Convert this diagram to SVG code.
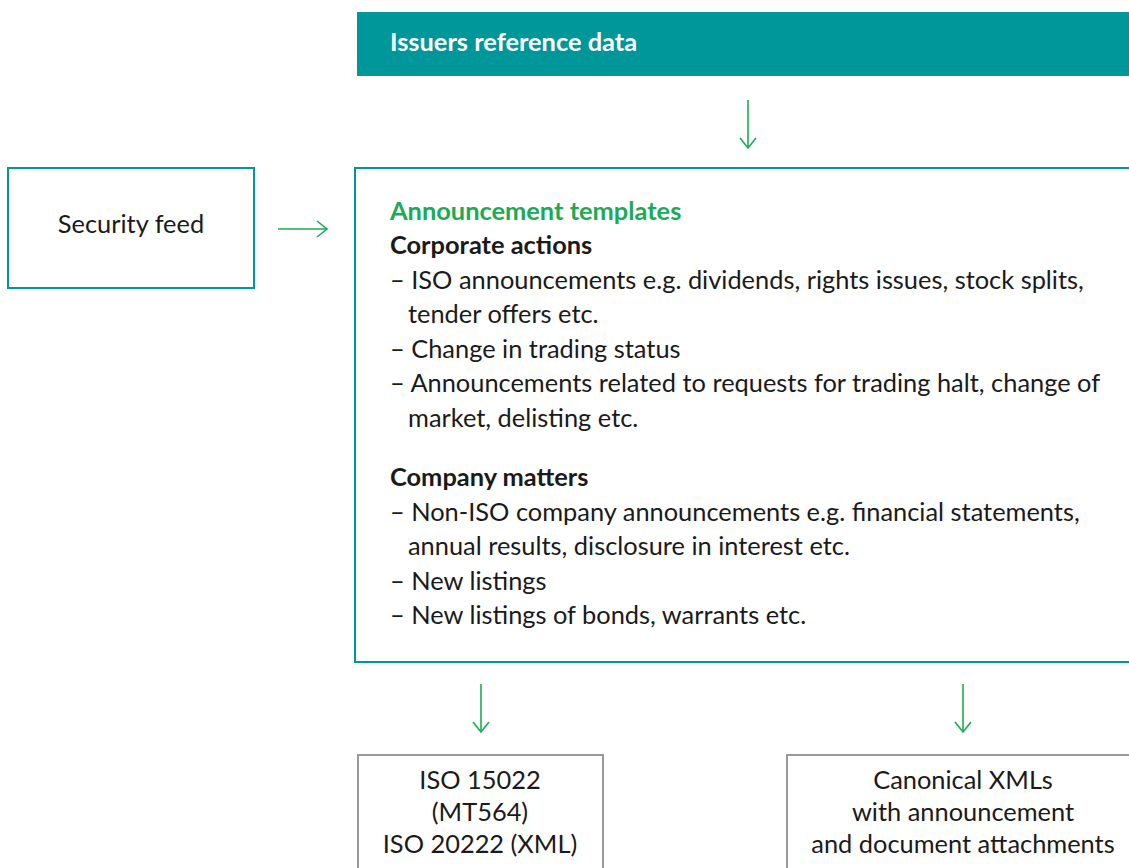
<svg xmlns="http://www.w3.org/2000/svg" width="1129" height="868" viewBox="0 0 1129 868">
<defs>
<marker id="arr" viewBox="0 0 16 18" refX="11" refY="9" markerWidth="16" markerHeight="18" markerUnits="userSpaceOnUse" orient="auto">
<path d="M1,1 L11,9 L1,17" fill="none" stroke="#1BAA55" stroke-width="1.6"/>
</marker>
<style>
text{font-family:Lato,"Liberation Sans",sans-serif;font-size:25.4px;fill:#1a1a1a}
.b{font-weight:bold}
.g{fill:#1BAA55;font-weight:bold}
.w{fill:#ffffff;font-weight:bold}
.c{text-anchor:middle}
.teal{fill:none;stroke:#00979A;stroke-width:2}
.grey{fill:none;stroke:#999999;stroke-width:2}
.con{stroke:#1BAA55;stroke-width:1.6;fill:none;marker-end:url(#arr)}
</style>
</defs>
<rect width="1129" height="868" fill="#ffffff"/>
<g id="issuers">
<rect x="357" y="12" width="772" height="64" fill="#00979A"/>
<text class="w" x="390" y="51">Issuers reference data</text>
</g>
<g id="security-feed">
<rect class="teal" x="8" y="168" width="246" height="120"/>
<text class="c" x="131" y="233">Security feed</text>
</g>
<g id="templates">
<rect class="teal" x="355" y="168" width="780" height="494"/>
<text class="g" x="390" y="220">Announcement templates</text>
<text class="b" x="390" y="254">Corporate actions</text>
<text x="390" y="289">– ISO announcements e.g. dividends, rights issues, stock splits,</text>
<text x="408" y="323">tender offers etc.</text>
<text x="390" y="358">– Change in trading status</text>
<text x="390" y="392">– Announcements related to requests for trading halt, change of</text>
<text x="408" y="427">market, delisting etc.</text>
<text class="b" x="390" y="486">Company matters</text>
<text x="390" y="521">– Non-ISO company announcements e.g. financial statements,</text>
<text x="408" y="555">annual results, disclosure in interest etc.</text>
<text x="390" y="590">– New listings</text>
<text x="390" y="624">– New listings of bonds, warrants etc.</text>
</g>
<g id="iso">
<rect class="grey" x="358" y="755" width="245" height="130"/>
<text class="c" x="480" y="789">ISO 15022</text>
<text class="c" x="480" y="821">(MT564)</text>
<text class="c" x="480" y="853">ISO 20222 (XML)</text>
</g>
<g id="canonical">
<rect class="grey" x="787" y="755" width="360" height="130"/>
<text class="c" x="963" y="789">Canonical XMLs</text>
<text class="c" x="963" y="821">with announcement</text>
<text class="c" x="963" y="853">and document attachments</text>
</g>
<g id="connectors">
<line class="con" x1="748" y1="100" x2="748" y2="148"/>
<line class="con" x1="278" y1="229" x2="327" y2="229"/>
<line class="con" x1="481" y1="684" x2="481" y2="732"/>
<line class="con" x1="963" y1="684" x2="963" y2="732"/>
</g>
</svg>
